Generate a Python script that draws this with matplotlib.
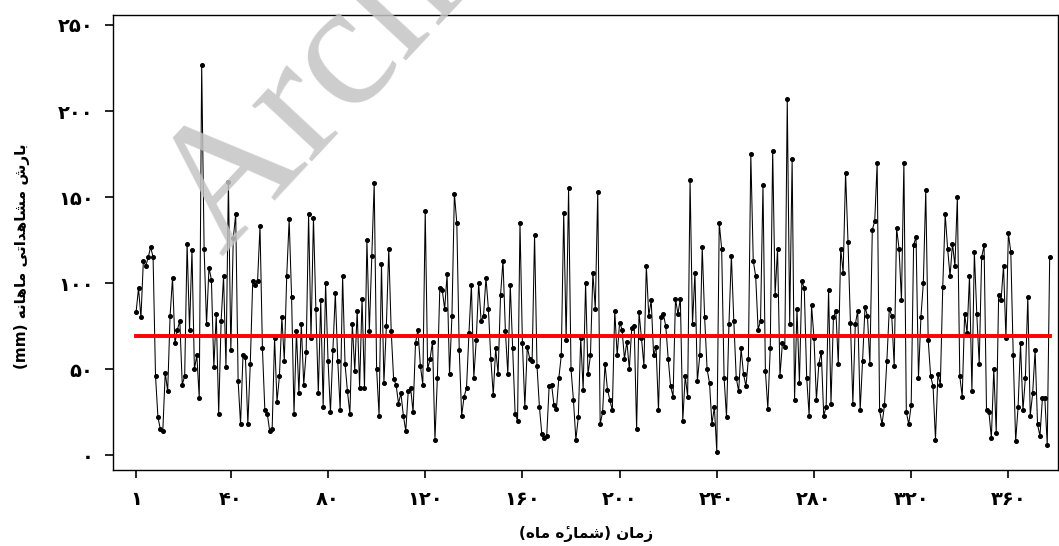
import numpy as np
import matplotlib
matplotlib.use("Agg")
import matplotlib.pyplot as plt
from matplotlib import font_manager
from matplotlib.ft2font import FT2Font

precip = [
    83, 97, 80, 113, 110, 115, 121, 115, 46, 22, 15, 14, 48, 37, 81, 103, 65, 73, 78, 41,
    46, 123, 73, 119, 50, 58, 33, 227, 120, 76, 109,
    102, 51, 82, 24, 78, 104, 51, 159, 61, 126, 140, 43, 18, 58, 57, 18, 53, 101, 99,
    101, 133, 62, 26, 24, 14, 15, 68, 31, 46, 80, 55, 104, 137,
    92, 24, 72, 36, 76, 41, 60, 140, 68, 138, 85, 36, 90, 28, 100, 55, 25, 61, 94, 55,
    26, 104, 53, 37, 24, 76, 49, 84, 39,
    91, 39, 125, 72, 116, 158, 50, 23, 111, 42, 75, 120, 72, 44, 41, 30, 36, 23, 14, 37,
    39, 25, 65, 73, 52, 41, 142, 50, 56, 66, 9, 45, 97,
    96, 85, 105, 47, 81, 152, 135, 61, 23, 34, 39, 71, 99, 45, 67, 100, 78, 81, 103, 85,
    56, 35, 62, 47, 93, 113, 72, 47, 99, 62, 24, 20, 135,
    65, 28, 63, 56, 55, 128, 52, 28, 12, 10, 11, 40, 41, 29, 27, 45, 58, 141, 67, 155,
    50, 32, 9, 22, 68, 38, 100, 47, 58, 106, 85, 153,
    18, 25, 53, 38, 32, 26, 84, 58, 77, 73, 56, 66, 50, 74, 75, 15, 83, 68, 52, 110,
    81, 90, 58, 63, 26, 80, 82, 75, 56, 40, 34, 91,
    82, 91, 20, 46, 34, 160, 76, 106, 43, 58, 121, 80, 50, 42, 18, 28, 2, 135, 120, 45,
    22, 76, 116, 78, 45, 37, 62, 47, 40, 56, 175, 113,
    104, 73, 78, 157, 49, 27, 62, 177, 93, 120, 46, 65, 63, 207, 76, 172, 32, 85, 42, 101,
    97, 45, 23, 87, 68, 32, 53, 60, 23, 28, 96,
    30, 80, 84, 53, 120, 106, 164, 124, 77, 30, 76, 84, 26, 55, 86, 81, 53, 131, 136, 170,
    26, 18, 29, 55, 85, 81, 52, 132, 120, 90, 170,
    25, 18, 29, 122, 127, 45, 80, 100, 154, 67, 46, 40, 9, 47, 41, 98, 140, 120, 104, 123,
    110, 150, 46, 34, 82, 71, 104, 37, 118, 82, 53, 115,
    122, 26, 25, 10, 50, 13, 93, 90, 110, 68, 129, 118, 58, 8, 28, 65, 26, 45, 92, 23,
    36, 61, 18, 11, 33, 33, 6, 115,
]
mean_line = 69.5

x_ticks = [1, 40, 80, 120, 160, 200, 240, 280, 320, 360]
x_ticklabels = ["۱", "۴۰", "۸۰", "۱۲۰", "۱۶۰", "۲۰۰", "۲۴۰", "۲۸۰", "۳۲۰", "۳۶۰"]
y_ticks = [0, 50, 100, 150, 200, 250]
y_ticklabels = ["۰", "۵۰", "۱۰۰", "۱۵۰", "۲۰۰", "۲۵۰"]
x_title = "زمان (شمارۀ ماه)"
y_title = "بارش مشاهداتی ماهانه (mm)"

# check which arabic glyphs the bold font really has
_fp = font_manager.findfont(font_manager.FontProperties(family='DejaVu Sans', weight='bold'))
_ft = FT2Font(_fp)


def has(s):
    return all(_ft.get_char_index(ord(c)) != 0 for c in s)


# heh with hamza: pick whatever form the font can draw
if has('\uFBA4'):
    heh_hamza = ('\uFBA4', '\uFBA5', None, None)
elif has('\u06C0'):
    heh_hamza = ('\u06C0', '\u06C0', None, None)
elif has('\u0654'):
    # mark goes after the base once the string is reversed
    heh_hamza = ('\u0654\uFEE9', '\u0654\uFEEA', None, None)
else:
    heh_hamza = ('\uFEE9', '\uFEEA', None, None)

# matplotlib has no arabic shaping, so pick presentation forms by hand
# (isolated, final, initial, medial)
FORMS = {
    'ا': ('\uFE8D', '\uFE8E', None, None),
    'ب': ('\uFE8F', '\uFE90', '\uFE91', '\uFE92'),
    'ت': ('\uFE95', '\uFE96', '\uFE97', '\uFE98'),
    'د': ('\uFEA9', '\uFEAA', None, None),
    'ر': ('\uFEAD', '\uFEAE', None, None),
    'ز': ('\uFEAF', '\uFEB0', None, None),
    'ش': ('\uFEB5', '\uFEB6', '\uFEB7', '\uFEB8'),
    'م': ('\uFEE1', '\uFEE2', '\uFEE3', '\uFEE4'),
    'ن': ('\uFEE5', '\uFEE6', '\uFEE7', '\uFEE8'),
    'ه': ('\uFEE9', '\uFEEA', '\uFEEB', '\uFEEC'),
    'ی': ('\uFBFC', '\uFBFD', '\uFBFE', '\uFBFF'),
    'ۀ': heh_hamza,
}


def rtl(text):
    out = []
    for i, ch in enumerate(text):
        if ch not in FORMS:
            out.append(ch)
            continue
        prev = text[i - 1] if i > 0 else ''
        nxt = text[i + 1] if i + 1 < len(text) else ''
        join_prev = prev in FORMS and FORMS[prev][2] is not None
        join_next = nxt in FORMS and FORMS[ch][2] is not None
        iso, fin, ini, med = FORMS[ch]
        if join_prev and join_next:
            out.append(med)
        elif join_prev:
            out.append(fin)
        elif join_next:
            out.append(ini)
        else:
            out.append(iso)
    vis = ''.join(out)[::-1]
    return vis.translate(str.maketrans('()', ')('))


plt.rcParams['font.family'] = ['DejaVu Sans']

months = np.arange(1, len(precip) + 1)

fig = plt.figure(figsize=(10.59, 5.46), dpi=100)
ax = fig.add_axes([0.1067, 0.139, 0.8923, 0.8335])

# watermark
fig.text(0.125, 0.55, "Archive of SID", fontsize=128, family='Liberation Serif',
         color='#c4c4c4', alpha=0.85, rotation=47, ha='left', va='baseline',
         zorder=5)

ax.plot(months, precip, color='black', lw=0.75, marker='o', markersize=2.6, zorder=2)
ax.plot([months[0], months[-1]], [mean_line, mean_line], color='#ff0000', lw=2.8, zorder=3)

ax.set_xlim(-8.5, 380.4)
ax.set_ylim(-8.7, 255.8)

ax.set_xticks(x_ticks)
ax.set_xticklabels(x_ticklabels, fontsize=14, fontweight='bold')
ax.set_yticks(y_ticks)
ax.set_yticklabels(y_ticklabels, fontsize=14, fontweight='bold')
ax.tick_params(axis='both', length=6, width=1.2, pad=8)

for s in ax.spines.values():
    s.set_linewidth(1.0)

fig.text(0.553, 0.008, rtl(x_title), fontsize=11, fontweight='bold', ha='center', va='bottom')
fig.text(0.021, 0.53, rtl(y_title), fontsize=11, fontweight='bold', rotation=90,
         ha='center', va='center')

fig.savefig("out.png", dpi=100)
